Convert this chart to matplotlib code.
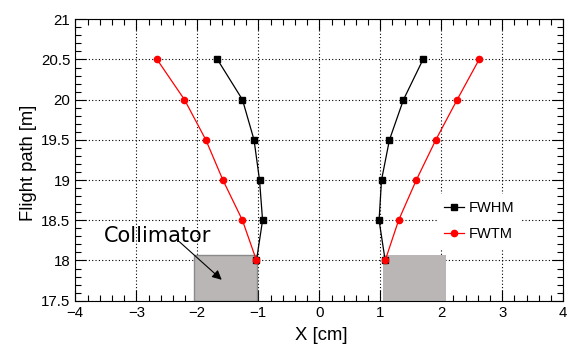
import matplotlib
matplotlib.use("Agg")
import matplotlib.pyplot as plt
from matplotlib.patches import Rectangle
from matplotlib.ticker import MultipleLocator

plt.rcParams['font.family'] = ['Liberation Sans', 'DejaVu Sans']

y_path = [18.0, 18.5, 19.0, 19.5, 20.0, 20.5]
fwhm_left = [-1.03, -0.93, -0.98, -1.07, -1.26, -1.67]
fwhm_right = [1.08, 0.98, 1.02, 1.15, 1.38, 1.70]
fwtm_left = [-1.03, -1.26, -1.58, -1.86, -2.21, -2.66]
fwtm_right = [1.08, 1.30, 1.59, 1.91, 2.26, 2.62]

coll_left = (-2.05, -1.02)
coll_right = (1.04, 2.08)
coll_top = 18.07

x_ticks = [-4, -3, -2, -1, 0, 1, 2, 3, 4]
x_labels = ['\u22124', '\u22123', '\u22122', '\u22121', '0', '1', '2', '3', '4']
y_ticks = [17.5, 18, 18.5, 19, 19.5, 20, 20.5, 21]
y_labels = ['17.5', '18', '18.5', '19', '19.5', '20', '20.5', '21']

fig = plt.figure(figsize=(5.68, 3.44), dpi=100)
ax = fig.add_axes([0.1326, 0.1259, 0.8591, 0.8180])

ax.add_patch(Rectangle((coll_left[0], 17.5), coll_left[1]-coll_left[0], coll_top-17.5,
                       facecolor='#bab6b6', edgecolor='#8a8a8a', lw=1, zorder=2))
ax.add_patch(Rectangle((coll_right[0], 17.5), coll_right[1]-coll_right[0], coll_top-17.5,
                       facecolor='#bab6b6', edgecolor='none', lw=0, zorder=2))

ax.plot(fwhm_left, y_path, color='black', marker='s', ms=4.5, lw=0.9, zorder=3)
l1, = ax.plot(fwhm_right, y_path, color='black', marker='s', ms=4.5, lw=0.9, zorder=3, label='FWHM')
ax.plot(fwtm_left, y_path, color='red', marker='o', ms=4.5, lw=0.9, zorder=4)
l2, = ax.plot(fwtm_right, y_path, color='red', marker='o', ms=4.5, lw=0.9, zorder=4, label='FWTM')

ax.set_xlim(-4, 4)
ax.set_ylim(17.5, 21)
ax.set_xticks(x_ticks)
ax.set_xticklabels(x_labels)
ax.set_yticks(y_ticks)
ax.set_yticklabels(y_labels)
ax.xaxis.set_minor_locator(MultipleLocator(0.2))
ax.yaxis.set_minor_locator(MultipleLocator(0.1))
ax.tick_params(which='both', direction='in', top=True, right=True, labelsize=10.8, width=0.8)
ax.tick_params(which='major', length=8)
ax.tick_params(which='minor', length=4)
ax.grid(True, which='major', color='black', linestyle=(0, (1, 2)), lw=0.8, zorder=1)
ax.set_axisbelow(True)

ax.set_xlabel('X [cm]', fontsize=13.3)
ax.set_ylabel('Flight path [m]', fontsize=13.2)
ax.xaxis.set_label_coords(0.505, -0.095)
ax.yaxis.set_label_coords(-0.079, 0.491)

ax.annotate('', xy=(-1.60, 17.76), xytext=(-2.295, 18.234),
            arrowprops=dict(arrowstyle='-|>', color='black', lw=0.8, mutation_scale=14,
                            shrinkA=0, shrinkB=0), zorder=5)
ax.text(-3.53, 18.234, 'Collimator', fontsize=15, family='DejaVu Sans', zorder=5, va='baseline')

leg = ax.legend(handles=[l1, l2], loc='upper left', bbox_to_anchor=(0.741, 0.38),
                frameon=True, fontsize=10.5, handlelength=1.33, handletextpad=0.35,
                labelspacing=0.85, borderpad=0.5, borderaxespad=0)
leg.get_frame().set_edgecolor('none')
leg.get_frame().set_facecolor('white')
leg.get_frame().set_alpha(1)
leg.get_frame().set_boxstyle('square', pad=0)

fig.savefig('out.png', dpi=100)
